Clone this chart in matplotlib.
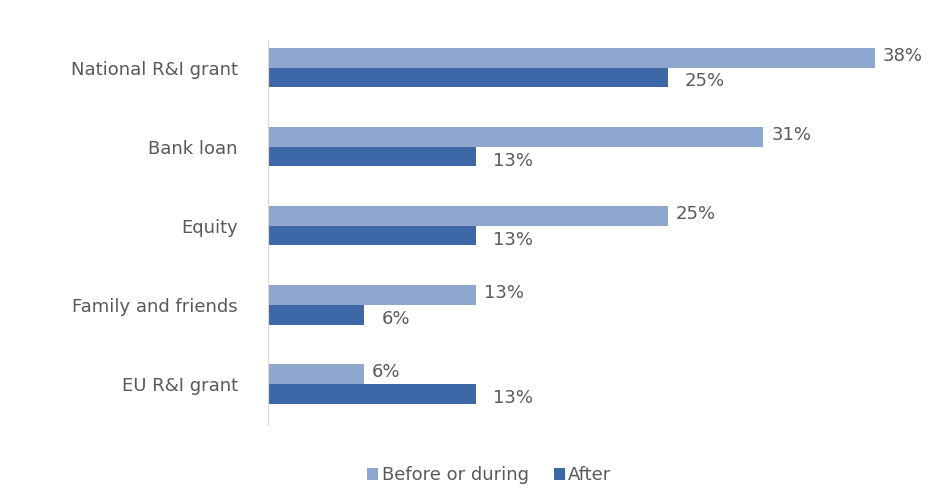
import matplotlib
matplotlib.use("Agg")
import matplotlib.pyplot as plt
import numpy as np

plt.rcParams["font.family"] = ["DejaVu Sans"]

categories = ["National R&I grant", "Bank loan", "Equity", "Family and friends", "EU R&I grant"]
before = [38, 31, 25, 13, 6]
after = [25, 13, 13, 6, 13]
series_names = ["Before or during", "After"]

c_before = "#8FA6CE"
c_after = "#3D68A8"
txt = "#595959"
fs = 13

fig = plt.figure(figsize=(9.41, 4.93), dpi=100)
ax = fig.add_axes([0.285, 0.138, 0.679, 0.781])

y = np.arange(len(categories))
h = 0.25
b1 = ax.barh(y - h / 2, before, height=h, color=c_before, label=series_names[0])
b2 = ax.barh(y + h / 2, after, height=h, color=c_after, label=series_names[1])

for yi, v in zip(y, before):
    ax.text(v + 0.5, yi - h / 2 - 0.02, f"{v}%", va="center", ha="left", fontsize=fs, color=txt)
for yi, v in zip(y, after):
    ax.text(v + 1.1, yi + h / 2 + 0.05, f"{v}%", va="center", ha="left", fontsize=fs, color=txt)

ax.set_xlim(0, 40)
ax.set_ylim(4.52, -0.35)
ax.set_yticks(y)
ax.set_yticklabels(categories, fontsize=fs, color=txt)
ax.tick_params(axis="y", length=0, pad=22)
ax.set_xticks([])
for s in ["top", "right", "bottom"]:
    ax.spines[s].set_visible(False)
ax.spines["left"].set_color("#D9D9D9")

fig.legend(handles=[b1, b2], labels=series_names, loc="lower center", ncol=2,
           bbox_to_anchor=(0.52, -0.015), frameon=False, fontsize=fs,
           handlelength=0.6, handleheight=0.6, handletextpad=0.2, columnspacing=1.4,
           labelcolor=txt)

fig.savefig("out.png", dpi=100)
